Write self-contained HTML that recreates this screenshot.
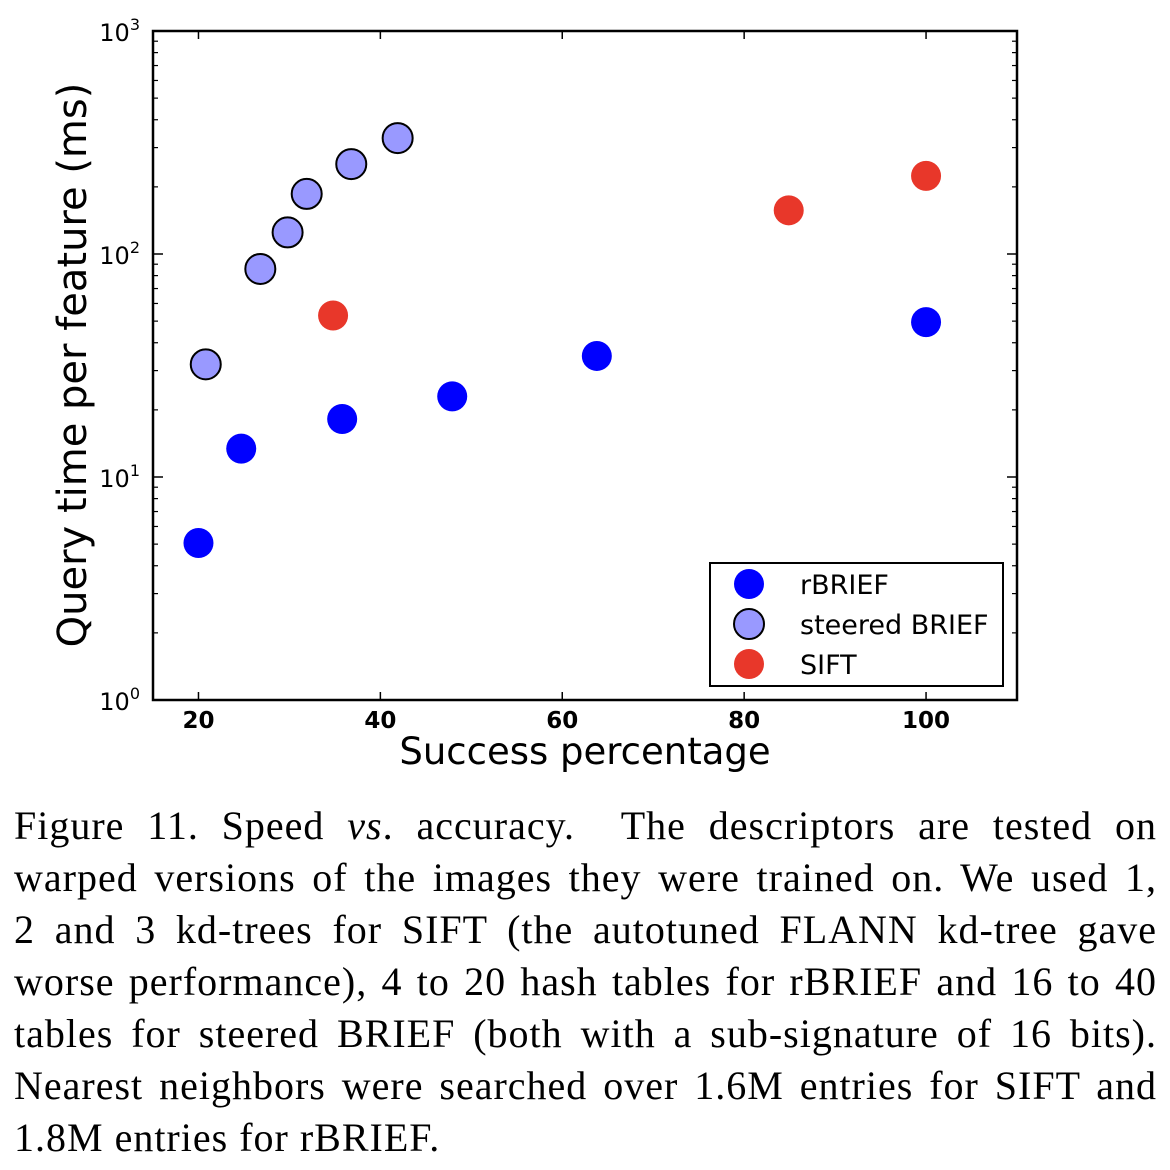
<!DOCTYPE html>
<html><head><meta charset="utf-8"><style>
html,body{margin:0;padding:0;background:#fff;width:1170px;height:1170px;overflow:hidden}
svg text{font-family:"DejaVu Sans","Liberation Sans",sans-serif}
#cap{position:absolute;left:14px;top:800px;width:1143px;font-family:"Liberation Serif",serif;font-size:40px;line-height:52px;color:#000;letter-spacing:1px}
#cap div{text-align:justify;text-align-last:justify;height:52px;white-space:nowrap}
#cap div.last{text-align-last:left}
</style></head><body>
<svg id="chart" width="1170" height="790" style="position:absolute;left:0;top:0">
<g id="marks"></g>
<g id="axes"></g>
</svg>
<div id="cap">
<div>Figure 11. Speed <i>vs</i>. accuracy. &nbsp;The descriptors are tested on</div>
<div>warped versions of the images they were trained on. We used 1,</div>
<div>2 and 3 kd-trees for SIFT (the autotuned FLANN kd-tree gave</div>
<div>worse performance), 4 to 20 hash tables for rBRIEF and 16 to 40</div>
<div>tables for steered BRIEF (both with a sub-signature of 16 bits).</div>
<div>Nearest neighbors were searched over 1.6M entries for SIFT and</div>
<div class="last">1.8M entries for rBRIEF.</div>
</div>
<script>
const rbriefX=[20,24.7,35.8,47.9,63.8,100];
const rbriefY=[5.06,13.4,18.2,23,34.9,49.5];
const steeredX=[20.8,26.8,29.8,31.9,36.8,41.9];
const steeredY=[32,85.7,125,186,253,331];
const siftX=[34.8,84.9,100];
const siftY=[53,157,224];
const xTicks=[20,40,60,80,100];
const yTickExp=[0,1,2,3];
const NS='http://www.w3.org/2000/svg';
const L=153,R=1017,T=31,B=700;
const xs=v=>L+(v-15)/(110-15)*(R-L);
const ys=v=>B-Math.log10(v)/3*(B-T);
function mk(tag,at,par){const e=document.createElementNS(NS,tag);for(const k in at)e.setAttribute(k,at[k]);par.appendChild(e);return e;}
const marks=document.getElementById('marks'),axes=document.getElementById('axes');
function series(X,Y,fill,stroke,name){X.forEach((x,i)=>{const c=mk('circle',{cx:xs(x),cy:ys(Y[i]),r:15,fill:fill,stroke:stroke,'stroke-width':stroke==='none'?0:2},marks);

});}
series(rbriefX,rbriefY,'#0000ff','none','rbrief');
series(steeredX,steeredY,'#9999ff','#000','steered-brief');
series(siftX,siftY,'#e8372a','none','sift');
const fr=mk('rect',{x:L,y:T,width:R-L,height:B-T,fill:'none',stroke:'#000','stroke-width':2.5},axes);


xTicks.forEach(v=>{const x=xs(v);
mk('line',{x1:x,x2:x,y1:B,y2:B-8,stroke:'#000','stroke-width':1.5},axes);
mk('line',{x1:x,x2:x,y1:T,y2:T+8,stroke:'#000','stroke-width':1.5},axes);
const t=mk('text',{x:x,y:B+28,'text-anchor':'middle','font-size':23,'font-weight':'600'},axes);t.textContent=v;

});
yTickExp.forEach(e=>{const y=ys(Math.pow(10,e));
mk('line',{x1:L,x2:L+10,y1:y,y2:y,stroke:'#000','stroke-width':1.5},axes);
mk('line',{x1:R,x2:R-10,y1:y,y2:y,stroke:'#000','stroke-width':1.5},axes);
if(e<3)for(let m=2;m<10;m++){const yy=ys(m*Math.pow(10,e));
mk('line',{x1:L,x2:L+5,y1:yy,y2:yy,stroke:'#000','stroke-width':1.2},axes);
mk('line',{x1:R,x2:R-5,y1:yy,y2:yy,stroke:'#000','stroke-width':1.2},axes);}
const t=mk('text',{x:140,y:y+10,'text-anchor':'end','font-size':24},axes);


const a=mk('tspan',{},t);a.textContent='10';const b=mk('tspan',{dy:-11,'font-size':16},t);b.textContent=e;});
const xt=mk('text',{x:585,y:764,'text-anchor':'middle','font-size':37},axes);xt.textContent='Success percentage';


const yt=mk('text',{x:0,y:0,'text-anchor':'middle','font-size':40,transform:'translate(86,365) rotate(-90)'},axes);yt.textContent='Query time per feature (ms)';


const lg=mk('g',{},axes);


mk('rect',{x:710,y:563,width:293,height:123,fill:'#fff',stroke:'#000','stroke-width':2},lg);
[['rBRIEF','#0000ff','none'],['steered BRIEF','#9999ff','#000'],['SIFT','#e8372a','none']].forEach((d,i)=>{const y=584+i*40;
const c=mk('circle',{cx:749,cy:y,r:15,fill:d[1],stroke:d[2],'stroke-width':d[2]==='none'?0:2},lg);


const t=mk('text',{x:800,y:y+10,'font-size':27},lg);t.textContent=d[0];

});
</script>
</body></html>
